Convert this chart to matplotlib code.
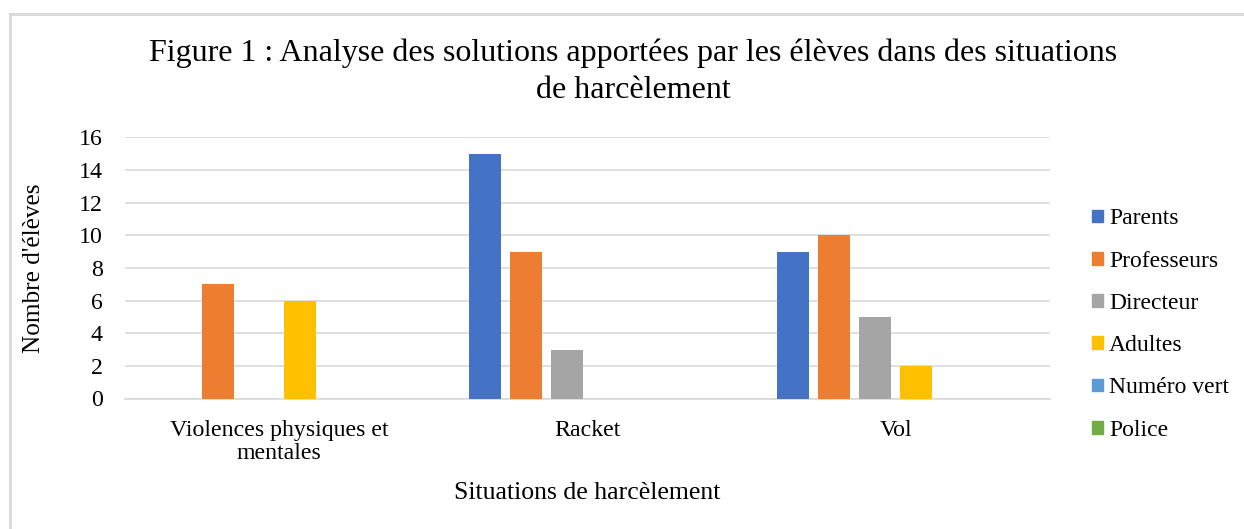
import matplotlib
matplotlib.use('Agg')
import matplotlib.pyplot as plt
import matplotlib.patches as mpatches
import matplotlib.lines as mlines
import numpy as np

plt.rcParams['font.family'] = ['Liberation Serif', 'DejaVu Serif']

categories = ['Violences physiques et\nmentales', 'Racket', 'Vol']
series = ['Parents', 'Professeurs', 'Directeur', 'Adultes', 'Numéro vert', 'Police']
values = {
    'Parents':     [0, 15, 9],
    'Professeurs': [7, 9, 10],
    'Directeur':   [0, 3, 5],
    'Adultes':     [6, 0, 2],
    'Numéro vert': [0, 0, 0],
    'Police':      [0, 0, 0],
}
colors = ['#4472C4', '#ED7D31', '#A5A5A5', '#FFC000', '#5B9BD5', '#70AD47']

fig = plt.figure(figsize=(12.44, 5.29), dpi=100)
ax = fig.add_axes([125 / 1244, 1 - 398.5 / 529, 925 / 1244, 261 / 529])

x = np.arange(len(categories))
slot = 0.133
width = 0.104
for i, (name, color) in enumerate(zip(series, colors)):
    ax.bar(x + (i - 2.5) * slot, values[name], width=width, color=color,
           label=name, zorder=3)

ax.set_xlim(-0.5, 2.5)
ax.set_ylim(0, 16)
ax.set_yticks(range(0, 17, 2))
ax.set_xticks(x)
ax.set_xticklabels(categories, fontsize=17.2, linespacing=1.15)
ax.tick_params(axis='both', length=0, labelsize=17.2, colors='#000000')
ax.tick_params(axis='y', pad=16)
ax.tick_params(axis='x', pad=15.5)
ax.grid(axis='y', color='#D9D9D9', linewidth=1.2, zorder=0)
for s in ['top', 'right', 'left']:
    ax.spines[s].set_visible(False)
ax.spines['bottom'].set_color('#D9D9D9')
ax.spines['bottom'].set_linewidth(1.2)

ax.set_ylabel("Nombre d'élèves", fontsize=18.2, labelpad=24)
ax.set_xlabel('Situations de harcèlement', fontsize=18.5, labelpad=13)

fig.text(633 / 1244, 1 - 71.5 / 529,
         'Figure 1 : Analyse des solutions apportées par les élèves dans des situations\nde harcèlement',
         ha='center', va='center', fontsize=23, linespacing=1.36)

handles = [mpatches.Patch(color=c, label=s) for s, c in zip(series, colors)]
fig.legend(handles=handles, loc='center left',
           bbox_to_anchor=(1083 / 1244, 1 - 324.5 / 529), frameon=False,
           fontsize=17, handlelength=0.45, handleheight=0.45,
           handletextpad=0.25, labelspacing=0.9, borderaxespad=0)

# outer chart frame (left and top edges visible)
fig.add_artist(mlines.Line2D([9.5 / 1244, 9.5 / 1244], [0, 1 - 13.5 / 529],
                             transform=fig.transFigure, color='#D9D9D9', linewidth=2))
fig.add_artist(mlines.Line2D([9.5 / 1244, 1], [1 - 13.5 / 529, 1 - 13.5 / 529],
                             transform=fig.transFigure, color='#D9D9D9', linewidth=2))

fig.savefig('out.png', dpi=100)
